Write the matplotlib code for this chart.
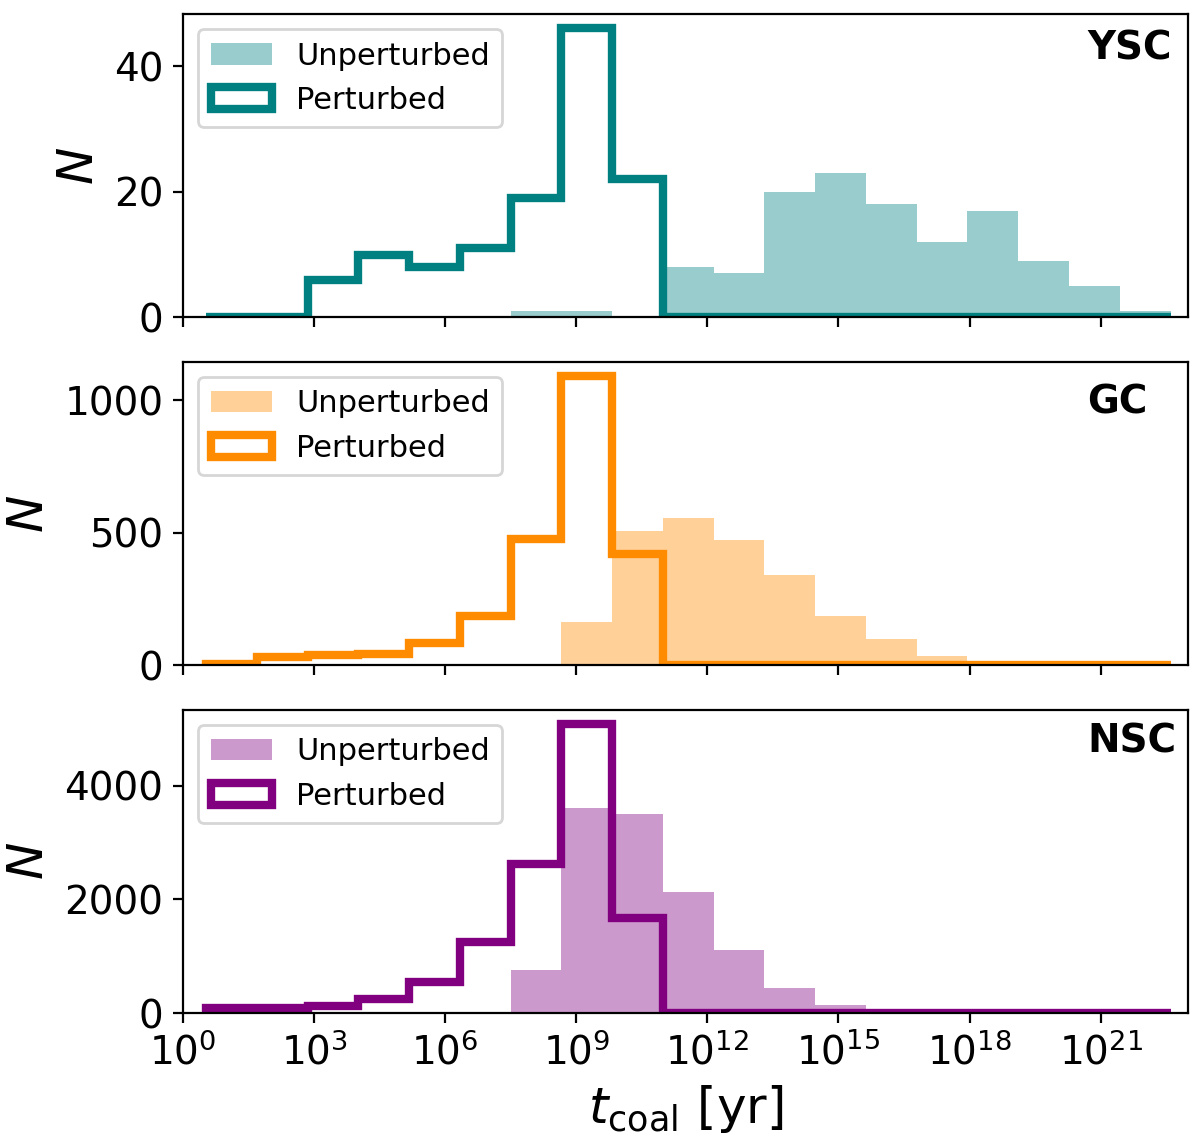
import numpy as np
import matplotlib.pyplot as plt
from matplotlib.ticker import NullLocator

# log10 bin edges shared by all panels (19 bins)
log_lo = 0.53
log_hi = 22.6
n_bins = 19

clusters = ['YSC', 'GC', 'NSC']
colors = ['teal', 'darkorange', 'purple']

# counts per bin
ysc_unpert = [0, 0, 0, 0, 0, 0, 1, 1, 0, 8, 7, 20, 23, 18, 12, 17, 9, 5, 1]
ysc_pert = [0, 0, 6, 10, 8, 11, 19, 46, 22, 0, 0, 0, 0, 0, 0, 0, 0, 0, 0]

gc_unpert = [0, 0, 0, 0, 0, 0, 0, 162, 506, 556, 472, 340, 187, 100, 34, 6, 3, 2, 1]
gc_pert = [4, 31, 37, 42, 82, 186, 475, 1090, 420, 0, 0, 0, 0, 0, 0, 0, 0, 0, 0]

nsc_unpert = [0, 0, 0, 0, 0, 0, 760, 3600, 3500, 2130, 1103, 442, 137, 25, 6, 2, 1, 1, 0]
nsc_pert = [85, 85, 128, 245, 540, 1245, 2624, 5080, 1668, 0, 0, 0, 0, 0, 0, 0, 0, 0, 0]

unpert = [ysc_unpert, gc_unpert, nsc_unpert]
pert = [ysc_pert, gc_pert, nsc_pert]

label_y = [0.95, 0.93, 0.957]

edges_log = np.linspace(log_lo, log_hi, n_bins + 1)
edges = 10 ** edges_log
centers = 10 ** (0.5 * (edges_log[:-1] + edges_log[1:]))

fig, axes = plt.subplots(3, 1, figsize=(6, 5.7), dpi=200, sharex=True)
fig.subplots_adjust(left=0.1525, right=0.99, top=0.9877, bottom=0.1114, hspace=0.147)

for i, ax in enumerate(axes):
    ax.set_xscale('log')
    ax.hist(centers, bins=edges, weights=unpert[i], color=colors[i], alpha=0.4,
            label='Unperturbed')
    ax.hist(centers, bins=edges, weights=pert[i], histtype='step', color=colors[i],
            lw=3, label='Perturbed')
    ax.legend(loc='upper left', fontsize=11)
    ax.text(0.9, label_y[i], clusters[i], transform=ax.transAxes, ha='left', va='top',
            fontsize=14, fontweight='bold')
    ax.set_ylabel('$N$', fontsize=18)
    ax.tick_params(labelsize=14)

axes[-1].set_xlim(1, 1e23)
axes[-1].set_xticks([10.0 ** k for k in range(0, 22, 3)])
axes[-1].xaxis.set_minor_locator(NullLocator())
axes[-1].set_xlabel(r'$t_{\rm coal}$ [yr]', fontsize=18)

plt.savefig('out.png', dpi=200)
